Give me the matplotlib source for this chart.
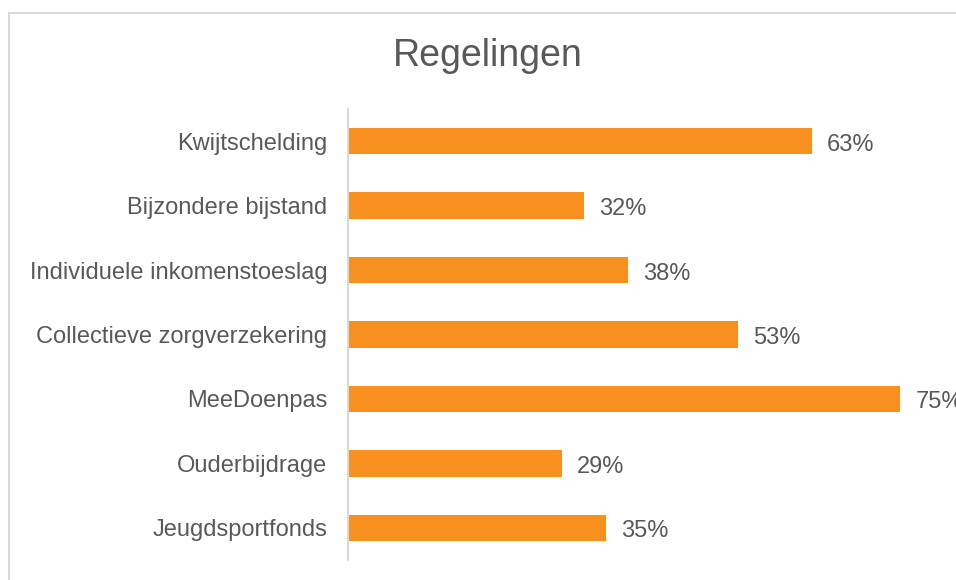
import matplotlib
matplotlib.use("Agg")
import matplotlib.pyplot as plt
from matplotlib.lines import Line2D

plt.rcParams['font.family'] = ['Liberation Sans', 'DejaVu Sans']

categories = ["Kwijtschelding", "Bijzondere bijstand", "Individuele inkomenstoeslag",
              "Collectieve zorgverzekering", "MeeDoenpas", "Ouderbijdrage", "Jeugdsportfonds"]
values = [63, 32, 38, 53, 75, 29, 35]
labels = ["63%", "32%", "38%", "53%", "75%", "29%", "35%"]

W, H = 956, 580
fig = plt.figure(figsize=(W / 100, H / 100), dpi=100)

# outer chart frame (cut off at right and bottom in the screenshot)
fc = "#d9d9d9"
fig.add_artist(Line2D([9 / W, 9 / W], [0, 1 - 13 / H], color=fc, lw=1.5, transform=fig.transFigure))
fig.add_artist(Line2D([9 / W, 1], [1 - 13 / H, 1 - 13 / H], color=fc, lw=1.5, transform=fig.transFigure))

txt = "#595959"
ax = fig.add_axes([348 / W, 1 - 560 / H, 589 / W, 451 / H])
y = list(range(len(categories)))
ax.barh(y, values, height=0.41, color="#f7901e")
ax.set_xlim(0, 80)
ax.set_ylim(len(categories) - 0.5, -0.5)
ax.set_yticks(y)
ax.set_yticklabels(categories, fontsize=17, color=txt)
ax.tick_params(axis="y", length=0, pad=15)
ax.set_xticks([])
for s in ["top", "right", "bottom"]:
    ax.spines[s].set_visible(False)
ax.spines["left"].set_color(fc)
ax.spines["left"].set_linewidth(1.5)

for yi, v, lab in zip(y, values, labels):
    ax.annotate(lab, (v, yi), xytext=(11, -2.5), textcoords="offset points",
                va="center", ha="left", fontsize=17, color=txt, annotation_clip=False)

fig.text(488 / W, 1 - 56 / H, "Regelingen", ha="center", va="center", fontsize=27, color=txt)

fig.savefig("out.png", dpi=100)
